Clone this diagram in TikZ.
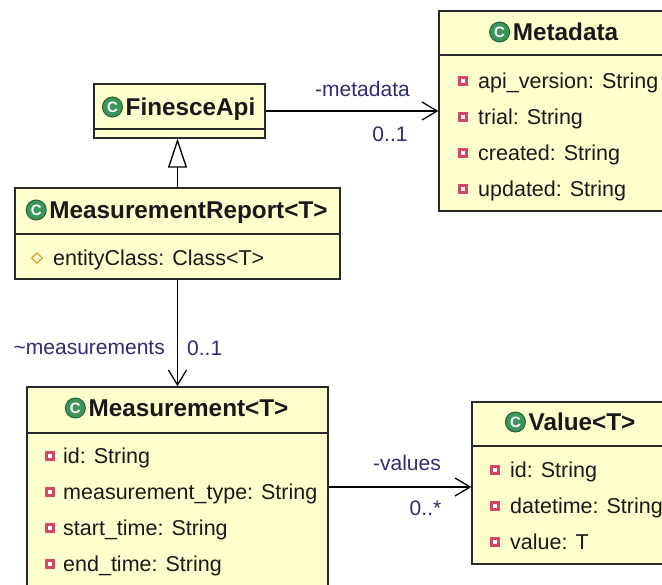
\documentclass[tikz,border=0pt]{standalone}
\usepackage{fontspec}
\setmainfont{Liberation Sans}
\usetikzlibrary{arrows.meta,calc,shapes.geometric}
\definecolor{umlfill}{RGB}{255,255,206}
\definecolor{umlline}{RGB}{40,40,40}
\definecolor{lblcol}{RGB}{45,45,115}
\definecolor{cgreen}{RGB}{60,150,90}
\definecolor{privred}{RGB}{215,70,100}
\definecolor{protor}{RGB}{215,165,60}
\tikzset{
  umlbox/.style={draw=umlline, fill=umlfill, line width=1.4pt, inner sep=0pt},
  sepline/.style={draw=umlline, line width=1.4pt},
  titletext/.style={font=\fontsize{24.3}{28}\selectfont\bfseries, inner sep=0pt, anchor=base, text=black!90},
  attr/.style={font=\fontsize{21.5}{26}\selectfont, inner sep=0pt, anchor=base west, text=black!90},
  lbl/.style={font=\fontsize{21}{25}\selectfont, inner sep=0pt, text=lblcol},
  cicon/.style={circle, fill=cgreen, draw=cgreen!65!black, line width=1pt, minimum size=20pt, inner sep=0pt, text=white, font=\fontsize{15}{15}\selectfont\bfseries},
  priv/.style={fill=privred, minimum size=10pt, inner sep=0pt, path picture={\fill[white] ($(path picture bounding box.center)+(-1.7,-1.7)$) rectangle ++(3.4,3.4);}},
  prot/.style={diamond, draw=protor, line width=1.2pt, minimum size=11pt, inner sep=0pt},
  inh/.style={-{Triangle[open,length=29pt,width=19pt,fill=white]}, line width=1.3pt, draw=black},
  assoc/.style={-{Straight Barb[length=15pt,width=18pt,line width=1.3pt]}, line width=1.3pt, draw=black},
}
\begin{document}
\begin{tikzpicture}[x=1pt,y=-1pt]
\useasboundingbox (0,0) rectangle (662,585);
\clip (0,0) rectangle (662,585);
\fill[white] (0,0) rectangle (662,585);
% boxes
\node[umlbox, minimum width=171pt, minimum height=54pt] (fin) at (179.5,111) {};
\node[umlbox, minimum width=325pt, minimum height=91pt] (rep) at (177.5,233.5) {};
\node[umlbox, minimum width=301pt, minimum height=200pt] (meas) at (177.5,487) {};
\node[umlbox, minimum width=231pt, minimum height=200pt] (meta) at (554.5,111) {};
\node[umlbox, minimum width=198pt, minimum height=162pt] (val) at (571,483) {};
% separators
\draw[sepline] (fin.west |- 0,129) -- (fin.east |- 0,129);
\draw[sepline] (rep.west |- 0,234) -- (rep.east |- 0,234);
\draw[sepline] (meas.west |- 0,433) -- (meas.east |- 0,433);
\draw[sepline] (meta.west |- 0,55) -- (meta.east |- 0,55);
\draw[sepline] (val.west |- 0,446) -- (val.east |- 0,446);
% titles
\node[titletext] (finT) at (190.5,115.7) {FinesceApi};
\node[cicon] (finI) at ($(finT.base west)+(-13,-8.7)$) {C};
\node[titletext] (repT) at (188.5,218.7) {MeasurementReport<T>};
\node[cicon] (repI) at ($(repT.base west)+(-13,-8.7)$) {C};
\node[titletext] (measT) at (188.5,416.7) {Measurement<T>};
\node[cicon] (measI) at ($(measT.base west)+(-13,-8.7)$) {C};
\node[titletext] (metaT) at (565.5,40.7) {Metadata};
\node[cicon] (metaI) at ($(metaT.base west)+(-13,-8.7)$) {C};
\node[titletext] (valT) at (582,430.7) {Value<T>};
\node[cicon] (valI) at ($(valT.base west)+(-13,-8.7)$) {C};
% Metadata attributes
\node[priv] (mm1) at (463,81) {};  \node[attr] (ma1) at (478,88.7) {api\_version: String};
\node[priv] (mm2) at (463,117) {}; \node[attr] (ma2) at (478,124.7) {trial: String};
\node[priv] (mm3) at (463,153) {}; \node[attr] (ma3) at (478,160.7) {created: String};
\node[priv] (mm4) at (463,189) {}; \node[attr] (ma4) at (478,196.7) {updated: String};
% MeasurementReport attribute
\node[prot] (rm1) at (37,258) {}; \node[attr] (ra1) at (53,265.7) {entityClass: Class<T>};
% Measurement attributes
\node[priv] (sm1) at (50,456) {}; \node[attr] (sa1) at (63,463.7) {id: String};
\node[priv] (sm2) at (50,492) {}; \node[attr] (sa2) at (63,499.7) {measurement\_type: String};
\node[priv] (sm3) at (50,528) {}; \node[attr] (sa3) at (63,535.7) {start\_time: String};
\node[priv] (sm4) at (50,564) {}; \node[attr] (sa4) at (63,571.7) {end\_time: String};
% Value attributes
\node[priv] (vm1) at (495,470) {}; \node[attr] (va1) at (510,477.7) {id: String};
\node[priv] (vm2) at (495,506) {}; \node[attr] (va2) at (510,513.7) {datetime: String};
\node[priv] (vm3) at (495,542) {}; \node[attr] (va3) at (510,549.7) {value: T};
% connectors
\draw[inh] (rep.north) -- (rep.north |- fin.south);
\draw[assoc] (fin.east) -- (fin.east -| meta.west);
\draw[assoc] (rep.south) -- (meas.north);
\draw[assoc] (meas.east) -- (meas.east -| val.west);
% labels
\node[lbl] (l1) at (362.5,89) {-metadata};
\node[lbl] (l2) at (390,134) {0..1};
\node[lbl, anchor=east] (l3) at (165,348) {\textasciitilde measurements};
\node[lbl, anchor=west] (l4) at (187,348) {0..1};
\node[lbl] (l5) at (407,463) {-values};
\node[lbl] (l6) at (425.5,508) {0..*};
\end{tikzpicture}
\end{document}
